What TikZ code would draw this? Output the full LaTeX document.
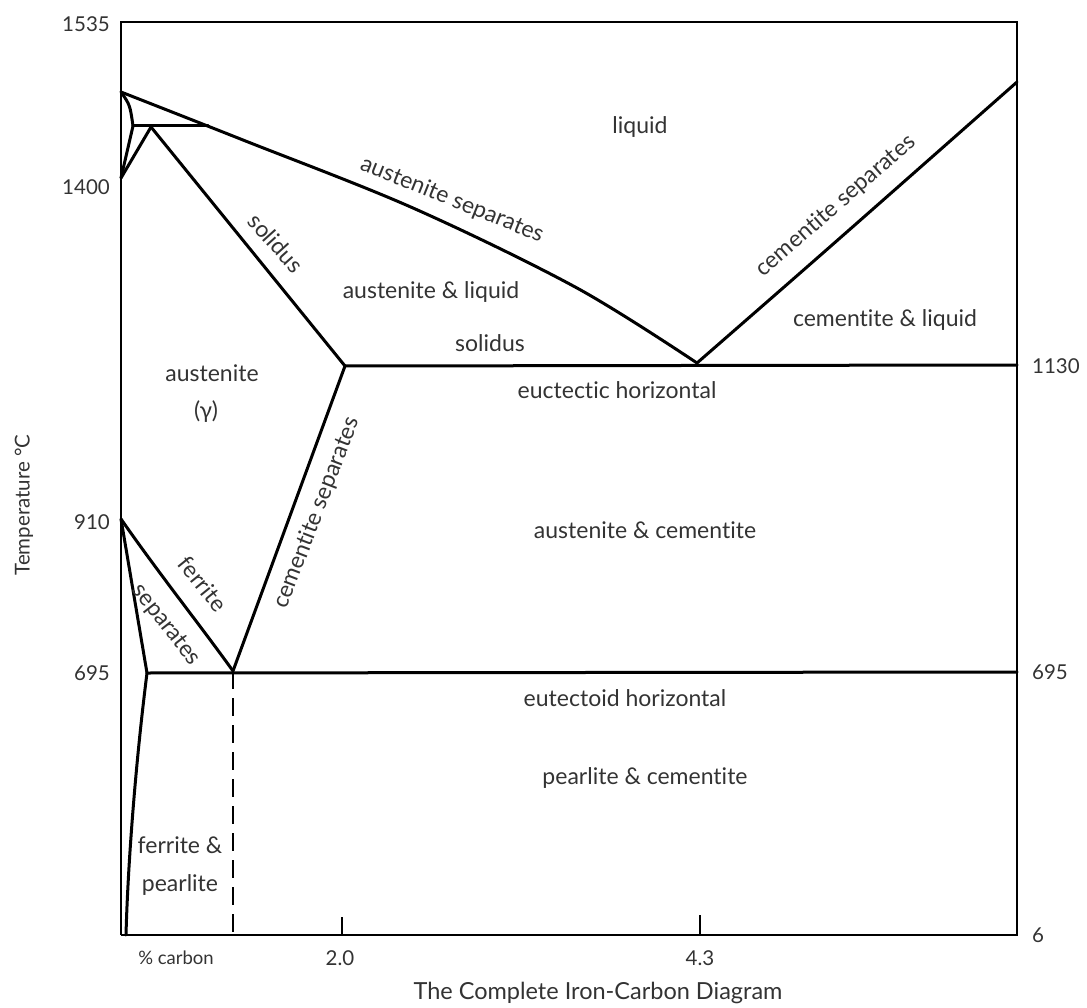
\documentclass[tikz,border=0pt]{standalone}
\usepackage{fontspec}
\setmainfont{Lato}[Ligatures={NoCommon}]
\begin{document}
\begin{tikzpicture}[x=1pt,y=-1pt,
  phase/.style={line width=3pt,line join=round,line cap=round},
  frame/.style={line width=2.4pt},
  lbl/.style={inner sep=0pt,font=\fontsize{23}{26}\selectfont,text=black!80},
  axlbl/.style={inner sep=0pt,font=\fontsize{20.5}{24}\selectfont,text=black!80}]
\useasboundingbox (0,0) rectangle (1087,1008);
% key points
\coordinate (TL) at (121,22);
\coordinate (TR) at (1017,22);
\coordinate (BR) at (1017,935);
\coordinate (BL) at (121,935);
\coordinate (A) at (121,92);
\coordinate (B) at (133,126);
\coordinate (C) at (121,178);
\coordinate (P) at (151,127);
\coordinate (Pe) at (208,126);
\coordinate (E) at (697,363);
\coordinate (Ec) at (1017,82);
\coordinate (S) at (345,366);
\coordinate (Se) at (1017,365);
\coordinate (G) at (121,519);
\coordinate (Ed) at (233,671);
\coordinate (Fs) at (147,673);
\coordinate (Fe) at (1017,672);
\coordinate (Fb) at (126,935);
\coordinate (Db) at (233,935);
\coordinate (T2) at (342,917);
\coordinate (T2b) at (342,935);
\coordinate (T4) at (700,915);
\coordinate (T4b) at (700,935);
% frame
\draw[frame] (BL) -- (TL) -- (TR) -- (BR) -- (BL);
% delta region
\draw[phase] (A) .. controls (130,105) .. (B);
\draw[phase] (B) -- (C);
\draw[phase] (B) -- (Pe);
\draw[phase] (P) -- (C);
% liquidus austenite
\draw[phase] plot[smooth,tension=0.55] coordinates {(121,92) (243,140) (413,208) (577,288) (697,363)};
% cementite liquidus
\draw[phase] (E) .. controls (830,247) .. (Ec);
% solidus
\draw[phase] (P) -- (S);
% eutectic horizontal
\draw[phase] (S) -- (Se);
% Acm
\draw[phase] (S) -- (Ed);
% A3
\draw[phase] (G) .. controls (160,575) and (200,625) .. (Ed);
% ferrite solvus
\draw[phase] (G) -- (Fs);
\draw[phase] (Fs) .. controls (136,760) and (128,860) .. (Fb);
% eutectoid
\draw[phase] (Fs) -- (Fe);
% dashed
\draw[line width=1.3pt,dash pattern=on 18pt off 9pt] (Ed) -- (Db);
% ticks
\draw[line width=1.5pt] (T2) -- (T2b);
\draw[line width=1.5pt] (T4) -- (T4b);
% axis labels
\node[axlbl,anchor=east] (l1535) at (110,24) {1535};
\node[axlbl,anchor=east] (l1400) at (110,187) {1400};
\node[axlbl,anchor=east] (l910) at (110,522) {910};
\node[axlbl,anchor=east] (l695) at (110,673) {695};
\node[axlbl,anchor=west] (r1130) at (1032,366) {1130};
\node[axlbl,anchor=west] (r695) at (1032,672) {695};
\node[axlbl,anchor=west] (r6) at (1032,935) {6};
\node[axlbl,rotate=90] (temp) at (24,505) {Temperature °C};
\node[axlbl,font=\fontsize{18.5}{22}\selectfont] (pc) at (176,958) {\% carbon};
\node[axlbl] (x20) at (340,958) {2.0};
\node[axlbl] (x43) at (700,958) {4.3};
\node[axlbl,font=\fontsize{23.5}{27}\selectfont] (title) at (598,993) {The Complete Iron-Carbon Diagram};
% region labels
\node[lbl] (liq) at (640,127) {liquid};
\node[lbl,rotate=-22] (aus) at (452,200) {austenite separates};
\node[lbl,rotate=41] (cem) at (836,206) {cementite separates};
\node[lbl,rotate=-48] (sol1) at (276,243) {solidus};
\node[lbl] (al) at (431,292) {austenite \& liquid};
\node[lbl] (sol2) at (490,343) {solidus};
\node[lbl] (cl) at (885,320) {cementite \& liquid};
\node[lbl] (aust) at (212,373) {austenite};
\node[lbl] (gam) at (206,412) {(γ)};
\node[lbl,rotate=69] (cem2) at (317,513) {cementite separates};
\node[lbl,rotate=-51] (fer) at (203,584) {ferrite};
\node[lbl,rotate=-52] (sep) at (166,625) {separates};
\node[lbl] (eut) at (617,390) {euctectic horizontal};
\node[lbl] (ac) at (645,530) {austenite \& cementite};
\node[lbl] (eud) at (625,698) {eutectoid horizontal};
\node[lbl] (pcem) at (645,778) {pearlite \& cementite};
\node[lbl] (fp1) at (180,845) {ferrite \&};
\node[lbl] (fp2) at (180,885) {pearlite};
\end{tikzpicture}
\end{document}
